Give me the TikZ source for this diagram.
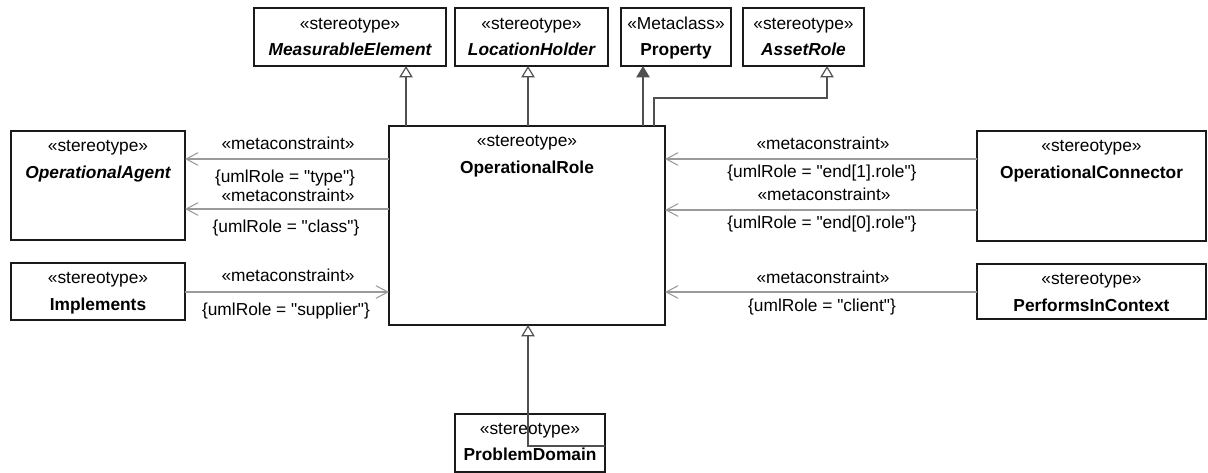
\documentclass[tikz,border=0pt]{standalone}
\usepackage{fontspec}
\setmainfont{Liberation Sans}[Ligatures=TeXOff]
\usetikzlibrary{arrows.meta,calc,fit}
\definecolor{genc}{HTML}{505050}
\definecolor{depc}{HTML}{9A9A9A}
\definecolor{boxc}{HTML}{1A1A1A}
\tikzset{
  umlbox/.style={draw=boxc, line width=1pt, inner sep=0pt, outer sep=0pt, fill=white},
  st/.style={anchor=base, inner sep=0pt, font=\fontsize{13}{15}\selectfont},
  nm/.style={anchor=base, inner sep=0pt, font=\fontsize{13}{15}\selectfont\bfseries},
  nmi/.style={anchor=base, inner sep=0pt, font=\fontsize{13}{15}\selectfont\bfseries\itshape},
  lbl/.style={anchor=base, inner sep=0pt, font=\fontsize{13}{15}\selectfont},
  gen/.style={draw=genc, line width=0.9pt, -{Triangle[open, length=8.5pt, width=10pt, fill=white]}},
  genf/.style={draw=genc, line width=0.9pt, -{Triangle[length=8.5pt, width=10pt, fill=genc]}},
  dep/.style={draw=depc, line width=0.8pt, -{Straight Barb[length=9pt, width=9.5pt]}},
}
\begin{document}
\begin{tikzpicture}[x=0.75pt, y=-0.75pt]
\useasboundingbox (0,0) rectangle (1208,472);

% boxes
\node[umlbox, fit={(254,8)(446,66)}] (me) {};
\node[st] at ($(me.north)+(0,21)$) {«stereotype»};
\node[nmi] at ($(me.north)+(0,47)$) {MeasurableElement};

\node[umlbox, fit={(455,8)(608,66)}] (lh) {};
\node[st] at ($(lh.north)+(0,21)$) {«stereotype»};
\node[nmi] at ($(lh.north)+(0,47)$) {LocationHolder};

\node[umlbox, fit={(621,8)(731,66)}] (prop) {};
\node[st] at ($(prop.north)+(0,21)$) {«Metaclass»};
\node[nm] at ($(prop.north)+(0,47)$) {Property};

\node[umlbox, fit={(743,8)(864,66)}] (ar) {};
\node[st] at ($(ar.north)+(0,21)$) {«stereotype»};
\node[nmi] at ($(ar.north)+(0,47)$) {AssetRole};

\node[umlbox, fit={(389,126)(665,325)}] (opr) {};
\node[st] at ($(opr.north)+(0,20)$) {«stereotype»};
\node[nm] at ($(opr.north)+(0,47)$) {OperationalRole};

\node[umlbox, fit={(11,131)(185,240)}] (oa) {};
\node[st] at ($(oa.north)+(0,20)$) {«stereotype»};
\node[nmi] at ($(oa.north)+(0,47)$) {OperationalAgent};

\node[umlbox, fit={(11,263)(185,320)}] (impl) {};
\node[st] at ($(impl.north)+(0,20)$) {«stereotype»};
\node[nm] at ($(impl.north)+(0,47)$) {Implements};

\node[umlbox, fit={(977,131)(1206,241)}] (oc) {};
\node[st] at ($(oc.north)+(0,20)$) {«stereotype»};
\node[nm] at ($(oc.north)+(0,47)$) {OperationalConnector};

\node[umlbox, fit={(977,264)(1206,319)}] (pic) {};
\node[st] at ($(pic.north)+(0,20)$) {«stereotype»};
\node[nm] at ($(pic.north)+(0,47)$) {PerformsInContext};

\node[umlbox, fit={(455,414)(605,472)}] (pd) {};
\node[st] at ($(pd.north)+(0,20)$) {«stereotype»};
\node[nm] at ($(pd.north)+(0,46)$) {ProblemDomain};

% generalizations
\draw[gen] (406,0 |- opr.north) -- (406,0 |- me.south);
\draw[gen] (528,0 |- opr.north) -- (528,0 |- lh.south);
\draw[genf] (643,0 |- opr.north) -- (643,0 |- prop.south);
\draw[gen] (654,0 |- opr.north) -- (654,98) -| (827,0 |- ar.south);
\draw[gen] (pd.east |- 0,446) -| (528,0 |- opr.south);

% metaconstraints
\draw[dep] (opr.west |- 0,159) -- (oa.east |- 0,159);
\draw[dep] (opr.west |- 0,209) -- (oa.east |- 0,209);
\draw[dep] (impl.east |- 0,292) -- (opr.west |- 0,292);
\draw[dep] (oc.west |- 0,159) -- (opr.east |- 0,159);
\draw[dep] (oc.west |- 0,210) -- (opr.east |- 0,210);
\draw[dep] (pic.west |- 0,292) -- (opr.east |- 0,292);

% labels left
\node[lbl] (l1) at (288,149) {«metaconstraint»};
\node[lbl] (l2) at (285,182) {\{umlRole = "type"\}};
\node[lbl] (l3) at (288,201) {«metaconstraint»};
\node[lbl] (l4) at (286,232) {\{umlRole = "class"\}};
\node[lbl] (l5) at (288,281) {«metaconstraint»};
\node[lbl] (l6) at (286,315) {\{umlRole = "supplier"\}};
% labels right
\node[lbl] (r1) at (823,149) {«metaconstraint»};
\node[lbl] (r2) at (822,177) {\{umlRole = "end[1].role"\}};
\node[lbl] (r3) at (824,200) {«metaconstraint»};
\node[lbl] (r4) at (822,228) {\{umlRole = "end[0].role"\}};
\node[lbl] (r5) at (823,283) {«metaconstraint»};
\node[lbl] (r6) at (822,311) {\{umlRole = "client"\}};
\end{tikzpicture}
\end{document}
